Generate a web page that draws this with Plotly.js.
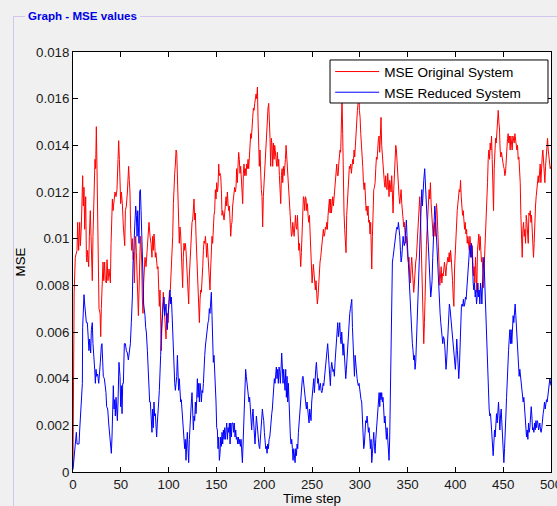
<!DOCTYPE html>
<html><head><meta charset="utf-8">
<script src="https://cdn.plot.ly/plotly-3.0.1.min.js"></script>
<style>
html,body{margin:0;padding:0;width:557px;height:506px;overflow:hidden;background:#f0f0f0;font-family:"Liberation Sans",Arial,sans-serif;}
#panel{position:absolute;left:13px;top:16px;width:560px;height:500px;border:1px solid #d2c6ee;box-sizing:border-box;}
#ptitle{position:absolute;left:25px;top:9px;padding:0 3px;background:#f0f0f0;color:#0000e6;font-weight:bold;font-size:11.6px;line-height:14px;font-family:"Liberation Sans",Arial,sans-serif;}
#chart{position:absolute;left:0;top:0;width:557px;height:506px;}
</style></head>
<body>
<div id="panel"></div>
<div id="ptitle">Graph - MSE values</div>
<div id="chart"></div>
<script>
// ---- data ----
const tOriginal = [0,0.5,1.2,2.4,4.2,4.9,5.9,7.0,7.7,8.7,9.4,10.1,10.8,11.5,12.2,13.3,14.0,14.6,15.3,16.4,17.1,18.1,18.8,19.5,20.2,20.9,21.6,22.3,23.0,23.7,24.4,25.1,25.8,26.5,27.2,28.3,29.0,29.6,30.3,31.4,32.1,33.1,33.8,34.9,35.6,36.6,37.7,38.4,39.1,39.8,40.5,41.2,41.9,42.9,43.9,45.0,46.0,47.1,47.8,48.5,49.2,49.9,50.6,51.6,52.7,53.4,54.1,54.8,55.8,56.9,57.6,58.2,58.9,59.6,60.3,61.4,62.1,62.8,63.5,64.2,64.9,65.6,66.3,67.0,67.7,68.4,69.1,69.8,70.5,71.2,71.9,72.5,73.2,73.9,74.6,75.3,76.4,77.4,78.5,79.5,80.6,81.6,82.6,83.3,84.0,84.7,85.4,86.1,86.8,87.5,88.2,88.9,89.6,90.3,91.0,91.7,92.4,93.1,93.8,94.5,95.2,95.9,96.6,97.3,98.0,98.7,99.4,100.1,100.8,101.8,102.5,103.6,104.3,105.0,105.7,106.4,107.1,107.8,108.5,109.2,109.8,110.5,111.2,111.9,112.6,113.3,114.0,114.7,115.4,116.1,116.8,117.5,118.2,118.9,119.6,120.3,121.0,121.7,122.4,123.1,123.8,124.5,125.2,125.9,126.6,127.3,128.0,128.7,129.4,130.1,130.8,131.5,132.2,132.9,133.6,134.3,135.0,135.7,136.4,137.1,137.8,138.5,139.2,139.8,140.5,141.2,141.9,142.6,143.3,144.0,144.7,145.4,146.1,146.8,147.5,148.2,148.9,149.6,150.3,151.0,151.7,152.4,153.1,153.8,154.5,155.2,155.9,156.6,157.3,158.0,158.7,159.4,160.1,160.8,161.5,162.2,162.9,163.6,164.3,165.0,165.7,166.3,167.0,167.7,168.4,169.1,169.8,170.5,171.2,171.9,172.6,173.3,174.0,174.7,175.4,176.1,176.8,177.5,178.2,178.9,179.6,180.3,181.0,181.7,182.4,183.1,183.8,184.5,185.2,185.9,186.6,187.3,188.0,188.7,189.4,190.1,190.8,191.5,192.2,192.9,193.5,194.2,194.9,195.6,196.3,197.0,197.7,198.4,199.1,199.8,200.5,201.2,201.9,202.6,203.3,204.0,204.7,205.4,206.1,206.8,207.5,208.2,208.9,209.6,210.3,211.0,211.7,212.4,213.1,213.8,214.5,215.2,215.9,216.6,217.3,218.0,218.7,219.4,220.1,220.8,221.5,222.2,222.9,223.6,224.3,225.0,225.7,226.4,227.1,227.8,228.5,229.2,229.9,230.6,231.3,232.0,232.7,233.4,234.1,234.8,235.5,236.2,236.9,237.6,238.2,238.9,239.6,240.3,241.0,241.7,242.4,243.1,243.8,244.5,245.2,245.9,246.6,247.3,248.0,248.7,249.4,250.1,251.4,252.5,253.5,254.2,254.9,255.6,256.3,257.0,257.7,258.4,259.1,259.8,260.5,261.2,261.9,262.6,263.3,264.0,264.7,265.4,266.1,266.8,267.5,268.2,268.9,269.6,270.3,271.0,271.7,272.4,273.1,273.8,274.5,275.2,275.9,276.6,277.3,278.0,278.6,279.3,280.0,280.7,281.4,282.1,282.8,283.5,284.2,284.9,285.6,286.3,287.0,287.7,288.4,289.1,289.8,290.5,291.2,291.9,292.6,293.3,294.0,294.7,295.4,296.1,296.8,297.5,298.2,298.9,299.6,300.3,301.0,301.7,302.4,303.1,303.8,304.5,305.2,305.9,306.6,307.3,308.0,308.6,309.3,310.0,310.7,311.4,312.1,312.5,313.2,313.9,314.6,315.3,316.0,316.7,317.4,318.1,318.8,319.5,320.2,320.8,321.5,322.2,322.9,323.6,324.3,325.0,325.7,326.4,327.1,327.8,328.5,329.2,329.9,330.6,331.3,332.0,332.7,333.4,334.1,334.8,335.5,336.2,336.9,337.6,338.3,339.0,339.7,340.4,341.1,341.8,342.5,343.2,343.9,344.6,345.3,346.0,346.6,347.3,348.0,348.7,349.4,350.1,350.8,351.5,352.2,352.9,353.6,354.3,355.0,355.7,356.4,357.1,357.8,358.5,359.2,359.9,360.6,361.3,362.0,362.7,363.4,364.1,364.8,365.5,366.2,366.9,367.6,368.3,369.0,369.7,370.4,371.1,371.8,372.5,373.2,373.9,374.6,375.3,376.0,376.7,377.4,378.1,378.8,379.5,380.2,380.9,381.6,382.3,383.0,383.7,384.4,385.1,385.8,386.5,387.2,387.9,388.6,389.3,390.0,390.7,391.4,392.1,392.8,393.5,394.2,394.9,395.6,396.3,397.0,397.7,398.4,399.1,399.8,400.5,401.2,401.9,402.6,403.3,404.0,404.7,405.4,406.1,406.8,407.5,408.2,408.9,409.6,410.3,411.0,411.7,412.4,413.1,413.8,414.5,415.2,415.9,416.8,417.5,418.2,418.9,419.6,420.3,421.0,421.7,422.4,423.1,423.8,424.5,425.2,425.9,426.6,427.3,428.0,428.7,429.4,430.1,430.8,431.5,432.2,432.9,433.6,434.3,435.0,435.7,436.4,437.1,437.8,438.5,439.2,439.9,440.6,441.3,442.0,442.7,443.4,444.1,444.8,445.5,446.1,446.8,447.5,448.2,448.9,449.6,450.3,451.0,451.7,452.4,453.1,453.8,454.5,455.2,455.9,456.6,457.3,458.0,458.7,459.4,460.1,460.8,461.5,462.2,462.9,463.6,464.3,465.0,465.7,466.4,467.1,467.8,468.5,469.2,469.9,470.6,471.3,472.0,472.7,473.4,474.1,474.8,475.5,476.2,476.9,477.6,478.3,479.0,479.6,480.3,481.0,481.7,482.4,483.1,483.8,484.5,485.2,485.9,486.6,487.3,488.0,488.7,489.4,490.1,490.8,491.5,492.2,492.9,493.6,494.3,495.0,495.7,496.4,497.1,497.8,498.5,499.2,500];
const mseOriginal = [0.0003,0.0061,0.0077,0.0092,0.0095,0.0107,0.0095,0.0107,0.0097,0.0105,0.0124,0.0127,0.0114,0.0122,0.0104,0.0118,0.0092,0.0090,0.0095,0.0088,0.0101,0.0112,0.0102,0.0088,0.0082,0.0101,0.0114,0.0122,0.0134,0.0130,0.0148,0.0130,0.0110,0.0090,0.0070,0.0068,0.0058,0.0070,0.0077,0.0090,0.0082,0.0090,0.0082,0.0081,0.0091,0.0082,0.0087,0.0081,0.0081,0.0098,0.0107,0.0117,0.0112,0.0118,0.0120,0.0118,0.0121,0.0134,0.0142,0.0134,0.0120,0.0115,0.0120,0.0115,0.0105,0.0101,0.0097,0.0112,0.0114,0.0120,0.0124,0.0131,0.0125,0.0120,0.0104,0.0095,0.0100,0.0091,0.0094,0.0081,0.0095,0.0101,0.0094,0.0084,0.0075,0.0067,0.0078,0.0094,0.0101,0.0097,0.0090,0.0075,0.0068,0.0081,0.0090,0.0092,0.0088,0.0095,0.0101,0.0107,0.0101,0.0098,0.0092,0.0101,0.0095,0.0102,0.0099,0.0092,0.0094,0.0090,0.0087,0.0088,0.0081,0.0071,0.0078,0.0060,0.0052,0.0065,0.0072,0.0077,0.0072,0.0068,0.0062,0.0057,0.0067,0.0068,0.0064,0.0072,0.0077,0.0078,0.0084,0.0092,0.0101,0.0115,0.0127,0.0128,0.0132,0.0138,0.0137,0.0127,0.0117,0.0107,0.0098,0.0105,0.0102,0.0095,0.0087,0.0079,0.0092,0.0098,0.0095,0.0098,0.0095,0.0088,0.0081,0.0075,0.0072,0.0084,0.0090,0.0095,0.0104,0.0107,0.0108,0.0112,0.0117,0.0108,0.0111,0.0101,0.0092,0.0084,0.0075,0.0067,0.0064,0.0074,0.0078,0.0077,0.0081,0.0088,0.0095,0.0099,0.0098,0.0101,0.0097,0.0092,0.0098,0.0092,0.0087,0.0081,0.0078,0.0087,0.0095,0.0101,0.0098,0.0107,0.0110,0.0112,0.0121,0.0117,0.0124,0.0120,0.0122,0.0132,0.0127,0.0128,0.0127,0.0121,0.0110,0.0112,0.0110,0.0108,0.0111,0.0115,0.0118,0.0114,0.0120,0.0115,0.0112,0.0114,0.0105,0.0101,0.0106,0.0107,0.0114,0.0118,0.0121,0.0122,0.0120,0.0122,0.0130,0.0124,0.0131,0.0137,0.0134,0.0128,0.0131,0.0124,0.0121,0.0115,0.0128,0.0132,0.0127,0.0130,0.0127,0.0132,0.0130,0.0134,0.0130,0.0135,0.0141,0.0145,0.0143,0.0150,0.0152,0.0156,0.0155,0.0158,0.0161,0.0162,0.0160,0.0165,0.0152,0.0140,0.0131,0.0138,0.0124,0.0121,0.0118,0.0105,0.0118,0.0124,0.0130,0.0135,0.0140,0.0145,0.0150,0.0156,0.0158,0.0152,0.0143,0.0131,0.0143,0.0140,0.0131,0.0141,0.0134,0.0140,0.0134,0.0134,0.0131,0.0137,0.0131,0.0134,0.0127,0.0121,0.0115,0.0127,0.0130,0.0124,0.0131,0.0127,0.0130,0.0134,0.0140,0.0135,0.0132,0.0127,0.0121,0.0115,0.0107,0.0104,0.0101,0.0102,0.0107,0.0104,0.0101,0.0105,0.0110,0.0105,0.0104,0.0110,0.0101,0.0095,0.0098,0.0091,0.0088,0.0094,0.0101,0.0110,0.0118,0.0117,0.0112,0.0118,0.0117,0.0112,0.0115,0.0110,0.0107,0.0110,0.0102,0.0095,0.0088,0.0081,0.0089,0.0082,0.0078,0.0082,0.0075,0.0072,0.0075,0.0081,0.0087,0.0090,0.0092,0.0095,0.0099,0.0101,0.0104,0.0101,0.0102,0.0105,0.0104,0.0107,0.0104,0.0110,0.0114,0.0117,0.0111,0.0117,0.0111,0.0115,0.0118,0.0114,0.0118,0.0122,0.0127,0.0130,0.0132,0.0127,0.0127,0.0132,0.0134,0.0138,0.0137,0.0148,0.0160,0.0145,0.0121,0.0111,0.0104,0.0097,0.0094,0.0110,0.0115,0.0120,0.0124,0.0131,0.0130,0.0132,0.0128,0.0131,0.0134,0.0132,0.0138,0.0135,0.0141,0.0144,0.0148,0.0155,0.0158,0.0164,0.0155,0.0152,0.0145,0.0141,0.0135,0.0131,0.0124,0.0121,0.0124,0.0118,0.0112,0.0114,0.0110,0.0114,0.0107,0.0108,0.0102,0.0107,0.0095,0.0087,0.0101,0.0115,0.0121,0.0122,0.0124,0.0130,0.0135,0.0134,0.0141,0.0143,0.0144,0.0137,0.0144,0.0152,0.0140,0.0135,0.0132,0.0128,0.0124,0.0122,0.0127,0.0122,0.0121,0.0128,0.0122,0.0118,0.0125,0.0121,0.0120,0.0127,0.0118,0.0111,0.0121,0.0127,0.0134,0.0140,0.0138,0.0132,0.0125,0.0122,0.0118,0.0115,0.0117,0.0121,0.0115,0.0111,0.0108,0.0105,0.0107,0.0101,0.0098,0.0101,0.0095,0.0092,0.0090,0.0092,0.0084,0.0081,0.0088,0.0092,0.0087,0.0081,0.0077,0.0081,0.0087,0.0090,0.0092,0.0098,0.0104,0.0110,0.0114,0.0118,0.0111,0.0101,0.0090,0.0078,0.0064,0.0055,0.0064,0.0078,0.0087,0.0097,0.0104,0.0112,0.0115,0.0121,0.0117,0.0124,0.0115,0.0108,0.0104,0.0101,0.0104,0.0107,0.0101,0.0110,0.0115,0.0111,0.0102,0.0094,0.0088,0.0080,0.0084,0.0088,0.0081,0.0085,0.0084,0.0087,0.0090,0.0087,0.0084,0.0088,0.0091,0.0092,0.0090,0.0094,0.0090,0.0095,0.0092,0.0088,0.0082,0.0075,0.0071,0.0087,0.0095,0.0101,0.0107,0.0112,0.0115,0.0120,0.0121,0.0120,0.0125,0.0118,0.0112,0.0110,0.0112,0.0107,0.0104,0.0107,0.0102,0.0104,0.0098,0.0101,0.0097,0.0095,0.0101,0.0095,0.0092,0.0097,0.0090,0.0084,0.0088,0.0081,0.0092,0.0084,0.0077,0.0095,0.0099,0.0102,0.0095,0.0101,0.0095,0.0090,0.0092,0.0084,0.0079,0.0088,0.0095,0.0099,0.0104,0.0112,0.0124,0.0134,0.0138,0.0134,0.0141,0.0138,0.0144,0.0134,0.0118,0.0112,0.0130,0.0135,0.0143,0.0141,0.0148,0.0152,0.0155,0.0150,0.0147,0.0138,0.0135,0.0137,0.0134,0.0134,0.0131,0.0130,0.0127,0.0128,0.0134,0.0138,0.0143,0.0145,0.0141,0.0144,0.0138,0.0144,0.0141,0.0138,0.0144,0.0143,0.0141,0.0145,0.0143,0.0141,0.0138,0.0140,0.0134,0.0135,0.0131,0.0124,0.0110,0.0101,0.0092,0.0104,0.0107,0.0101,0.0104,0.0098,0.0110,0.0107,0.0101,0.0098,0.0111,0.0110,0.0112,0.0107,0.0110,0.0104,0.0095,0.0092,0.0098,0.0110,0.0114,0.0118,0.0122,0.0124,0.0127,0.0124,0.0130,0.0132,0.0124,0.0134,0.0135,0.0138,0.0134,0.0127,0.0124,0.0131,0.0135,0.0138,0.0143,0.0138,0.0135,0.0132,0.0130,0.0131];

const tReduced = [0,0.7,1.4,2.4,3.5,4.2,5.2,6.3,7.0,8.0,9.1,9.8,10.1,10.8,11.5,12.2,12.9,14.0,15.0,15.7,16.7,17.4,18.5,19.2,20.2,20.9,21.6,22.7,23.4,24.1,24.8,25.8,26.9,27.9,28.6,29.6,30.3,31.0,31.7,32.8,33.5,34.5,35.2,36.3,37.3,38.0,38.7,39.4,40.1,40.8,41.5,42.2,42.9,43.6,44.3,45.0,45.7,46.4,47.1,48.1,49.2,49.9,50.6,51.3,52.0,52.7,53.7,54.8,55.8,56.9,57.9,58.9,60.0,61.0,62.1,62.8,63.5,64.2,64.9,65.6,66.3,67.0,67.7,68.4,69.1,69.8,70.5,71.2,71.9,72.5,73.2,73.9,74.6,75.3,76.0,76.7,77.8,78.5,79.5,80.2,80.9,82.0,82.6,83.3,84.0,84.7,85.4,86.1,86.8,87.5,88.2,88.9,89.6,90.3,91.0,91.7,92.4,93.1,93.8,94.5,95.2,95.9,96.6,97.3,98.0,98.7,99.4,100.1,100.8,101.5,102.2,102.9,103.6,104.3,105.0,105.7,106.4,107.1,107.8,108.5,109.2,109.8,110.5,111.2,111.9,112.6,113.3,114.0,114.7,115.4,116.1,116.8,117.5,118.2,118.9,119.6,120.3,121.0,121.7,122.4,123.1,123.8,124.5,125.2,125.9,126.6,127.3,128.0,128.7,129.4,130.1,130.8,131.5,132.2,132.9,133.6,134.3,135.0,135.7,136.4,137.1,137.8,138.5,139.2,139.8,140.5,141.2,141.9,142.6,143.3,144.0,144.7,145.4,146.1,146.8,147.5,148.2,148.9,149.6,150.3,151.0,151.7,152.4,153.1,153.8,154.5,155.2,155.9,156.6,157.3,158.0,158.7,159.4,160.1,160.8,161.5,162.2,162.9,163.6,164.3,165.0,165.7,166.4,167.4,168.1,168.8,169.5,170.2,170.9,171.6,172.3,173.0,173.7,174.4,175.1,175.8,176.5,177.2,177.9,178.6,179.3,180.0,180.6,181.3,182.0,182.7,183.4,184.1,184.8,185.5,186.2,186.9,187.6,188.3,189.0,189.7,190.4,191.1,191.8,192.5,193.2,193.9,194.6,195.3,196.0,196.7,197.4,198.1,198.8,199.5,200.2,200.9,201.6,202.3,203.0,203.7,204.4,205.1,205.8,206.5,207.2,207.9,208.5,209.2,209.9,210.6,211.3,212.0,212.7,213.4,214.1,214.8,215.5,216.2,216.9,217.6,218.3,219.0,219.7,220.4,221.1,221.8,222.5,223.2,223.9,224.6,225.3,226.0,226.7,227.4,228.1,228.8,229.5,230.2,230.9,231.6,232.3,233.0,233.7,234.4,235.1,235.8,236.5,237.2,237.9,238.5,239.2,239.9,240.6,241.3,242.0,242.7,243.4,244.1,244.8,245.5,246.2,246.9,247.6,248.3,249.0,249.7,250.4,251.1,251.8,252.5,253.2,253.9,254.6,255.3,256.0,256.7,257.4,258.1,258.8,259.5,260.2,260.9,261.6,262.3,263.0,263.7,264.3,265.0,265.7,266.4,267.1,267.8,268.5,269.2,269.9,270.6,271.3,272.0,272.7,273.4,274.1,274.8,275.5,276.2,276.9,277.6,278.3,279.0,279.7,280.4,281.1,281.8,282.5,283.2,283.9,284.6,285.3,286.0,286.7,287.4,288.1,288.8,289.5,290.2,290.9,291.6,292.3,293.0,293.7,294.4,295.1,295.8,296.5,297.2,297.9,298.5,299.2,299.9,300.6,301.3,302.0,302.7,303.4,304.1,304.8,305.5,306.2,306.9,307.6,308.3,309.0,309.7,310.4,311.1,311.8,312.5,313.2,313.9,314.6,315.3,316.0,316.7,317.4,318.1,318.8,319.5,320.2,320.9,321.5,322.2,322.9,323.6,324.3,325.0,325.7,326.4,327.1,327.8,328.5,329.2,329.9,330.6,331.3,332.0,332.7,333.4,334.1,334.8,335.5,336.2,336.9,337.6,338.3,339.0,339.7,340.4,341.1,341.8,342.5,343.2,343.9,344.6,345.3,346.0,346.6,347.3,348.0,348.7,349.4,350.1,350.8,351.5,352.2,352.9,353.6,354.3,355.0,355.7,356.4,357.1,357.8,358.5,359.2,359.9,360.6,361.3,362.0,362.7,363.4,364.1,364.8,365.5,366.2,366.9,367.9,368.6,369.3,370.0,370.7,371.4,372.1,372.8,373.5,374.2,374.9,375.6,376.3,377.0,377.7,378.4,379.1,379.8,380.5,381.2,381.9,382.6,383.3,384.0,384.7,385.4,386.1,386.8,387.5,388.2,388.9,389.6,390.2,390.9,391.6,392.3,393.0,393.7,394.4,395.1,395.8,396.5,397.2,397.9,398.6,399.3,400.0,400.7,401.4,402.1,402.8,403.5,404.2,404.9,405.6,406.3,407.0,407.7,408.4,409.1,409.8,410.5,411.2,411.9,412.6,413.3,414.0,414.7,415.4,416.1,416.8,417.5,418.6,419.3,420.0,420.7,421.4,422.1,422.8,423.5,424.2,424.9,425.6,426.3,427.0,427.7,428.4,429.1,429.8,430.5,431.2,431.9,432.6,433.2,433.9,434.6,435.3,436.0,436.7,437.4,438.1,438.8,439.5,440.2,440.9,441.6,442.3,443.0,443.7,444.4,445.1,445.8,446.5,447.2,447.9,448.6,449.3,450.0,450.7,451.4,452.1,452.8,453.5,454.2,454.9,455.6,456.3,457.0,457.7,458.3,459.0,459.7,460.4,461.1,461.8,462.5,463.2,463.9,464.6,465.3,466.0,466.7,467.4,468.1,468.8,469.5,470.2,470.9,471.6,472.3,473.0,473.7,474.4,475.1,475.8,476.5,477.2,477.9,478.6,479.3,480.0,480.7,481.4,482.1,482.8,483.5,484.2,484.9,485.6,486.3,487.0,487.7,488.3,489.0,489.7,490.4,491.1,491.8,492.5,493.2,493.9,494.6,495.3,496.0,496.7,497.4,498.1,498.8,500];
const mseReduced = [0.0001,0.0004,0.0010,0.0014,0.0017,0.0012,0.0012,0.0012,0.0018,0.0024,0.0030,0.0038,0.0062,0.0070,0.0076,0.0072,0.0067,0.0064,0.0064,0.0058,0.0052,0.0057,0.0051,0.0061,0.0064,0.0055,0.0048,0.0044,0.0038,0.0044,0.0041,0.0042,0.0038,0.0042,0.0047,0.0054,0.0055,0.0048,0.0041,0.0040,0.0038,0.0034,0.0028,0.0027,0.0021,0.0018,0.0015,0.0014,0.0008,0.0015,0.0030,0.0037,0.0027,0.0031,0.0024,0.0032,0.0027,0.0022,0.0030,0.0047,0.0041,0.0028,0.0037,0.0025,0.0038,0.0038,0.0055,0.0055,0.0052,0.0051,0.0048,0.0052,0.0055,0.0064,0.0075,0.0090,0.0092,0.0102,0.0107,0.0114,0.0110,0.0101,0.0112,0.0105,0.0098,0.0120,0.0121,0.0112,0.0104,0.0095,0.0084,0.0072,0.0070,0.0067,0.0062,0.0060,0.0052,0.0044,0.0035,0.0030,0.0030,0.0021,0.0017,0.0027,0.0019,0.0030,0.0024,0.0025,0.0019,0.0015,0.0021,0.0024,0.0030,0.0035,0.0041,0.0050,0.0060,0.0067,0.0068,0.0072,0.0075,0.0067,0.0070,0.0072,0.0065,0.0061,0.0067,0.0072,0.0077,0.0078,0.0072,0.0075,0.0068,0.0060,0.0050,0.0044,0.0038,0.0035,0.0038,0.0041,0.0050,0.0038,0.0035,0.0040,0.0034,0.0030,0.0031,0.0027,0.0022,0.0017,0.0014,0.0010,0.0014,0.0005,0.0012,0.0017,0.0010,0.0004,0.0014,0.0021,0.0025,0.0030,0.0034,0.0027,0.0018,0.0024,0.0022,0.0030,0.0025,0.0031,0.0040,0.0032,0.0038,0.0030,0.0038,0.0035,0.0030,0.0035,0.0034,0.0038,0.0047,0.0050,0.0054,0.0057,0.0061,0.0064,0.0064,0.0065,0.0070,0.0068,0.0072,0.0077,0.0067,0.0055,0.0047,0.0050,0.0044,0.0038,0.0030,0.0019,0.0018,0.0010,0.0015,0.0005,0.0008,0.0015,0.0011,0.0017,0.0012,0.0018,0.0014,0.0019,0.0014,0.0018,0.0021,0.0014,0.0019,0.0017,0.0021,0.0012,0.0021,0.0015,0.0021,0.0021,0.0017,0.0021,0.0015,0.0018,0.0014,0.0015,0.0012,0.0015,0.0012,0.0014,0.0011,0.0014,0.0010,0.0004,0.0012,0.0021,0.0030,0.0038,0.0044,0.0041,0.0038,0.0035,0.0032,0.0030,0.0032,0.0027,0.0024,0.0018,0.0024,0.0027,0.0021,0.0017,0.0012,0.0018,0.0024,0.0021,0.0017,0.0012,0.0011,0.0010,0.0014,0.0018,0.0022,0.0027,0.0024,0.0022,0.0017,0.0012,0.0010,0.0011,0.0008,0.0012,0.0010,0.0014,0.0015,0.0018,0.0024,0.0025,0.0027,0.0032,0.0035,0.0040,0.0038,0.0043,0.0045,0.0040,0.0044,0.0038,0.0045,0.0043,0.0038,0.0044,0.0051,0.0045,0.0038,0.0044,0.0041,0.0035,0.0044,0.0032,0.0041,0.0030,0.0038,0.0027,0.0021,0.0015,0.0012,0.0014,0.0010,0.0005,0.0010,0.0007,0.0004,0.0010,0.0007,0.0012,0.0010,0.0017,0.0021,0.0024,0.0030,0.0035,0.0038,0.0040,0.0041,0.0038,0.0035,0.0032,0.0030,0.0027,0.0030,0.0027,0.0024,0.0021,0.0027,0.0022,0.0022,0.0030,0.0034,0.0035,0.0040,0.0034,0.0041,0.0044,0.0047,0.0040,0.0038,0.0040,0.0035,0.0037,0.0038,0.0035,0.0034,0.0035,0.0038,0.0037,0.0041,0.0044,0.0048,0.0051,0.0052,0.0055,0.0050,0.0043,0.0038,0.0037,0.0044,0.0047,0.0045,0.0043,0.0044,0.0041,0.0047,0.0052,0.0058,0.0061,0.0064,0.0058,0.0060,0.0064,0.0058,0.0055,0.0060,0.0052,0.0050,0.0055,0.0050,0.0044,0.0040,0.0044,0.0050,0.0054,0.0058,0.0064,0.0068,0.0070,0.0072,0.0074,0.0062,0.0052,0.0045,0.0041,0.0050,0.0045,0.0041,0.0040,0.0038,0.0037,0.0038,0.0035,0.0034,0.0031,0.0030,0.0024,0.0015,0.0010,0.0012,0.0019,0.0022,0.0021,0.0024,0.0021,0.0017,0.0019,0.0015,0.0010,0.0014,0.0004,0.0008,0.0012,0.0017,0.0011,0.0008,0.0014,0.0018,0.0024,0.0027,0.0030,0.0034,0.0028,0.0034,0.0031,0.0034,0.0030,0.0032,0.0027,0.0021,0.0024,0.0017,0.0014,0.0019,0.0014,0.0010,0.0005,0.0015,0.0032,0.0052,0.0081,0.0090,0.0092,0.0095,0.0097,0.0099,0.0101,0.0104,0.0105,0.0104,0.0107,0.0105,0.0101,0.0095,0.0090,0.0092,0.0097,0.0101,0.0098,0.0097,0.0099,0.0107,0.0108,0.0101,0.0095,0.0088,0.0081,0.0075,0.0070,0.0064,0.0060,0.0055,0.0052,0.0048,0.0050,0.0044,0.0047,0.0055,0.0067,0.0078,0.0081,0.0090,0.0101,0.0110,0.0114,0.0121,0.0114,0.0121,0.0125,0.0130,0.0124,0.0115,0.0107,0.0101,0.0098,0.0092,0.0087,0.0081,0.0075,0.0078,0.0082,0.0092,0.0101,0.0112,0.0114,0.0110,0.0104,0.0095,0.0090,0.0081,0.0078,0.0072,0.0068,0.0064,0.0061,0.0057,0.0055,0.0058,0.0057,0.0054,0.0048,0.0044,0.0048,0.0055,0.0064,0.0070,0.0072,0.0070,0.0067,0.0064,0.0061,0.0058,0.0055,0.0052,0.0047,0.0044,0.0050,0.0057,0.0052,0.0047,0.0040,0.0045,0.0055,0.0064,0.0071,0.0072,0.0071,0.0074,0.0071,0.0072,0.0075,0.0074,0.0078,0.0084,0.0090,0.0092,0.0095,0.0097,0.0092,0.0098,0.0095,0.0081,0.0078,0.0081,0.0075,0.0078,0.0072,0.0075,0.0081,0.0075,0.0078,0.0072,0.0081,0.0078,0.0072,0.0081,0.0088,0.0092,0.0084,0.0075,0.0070,0.0061,0.0052,0.0041,0.0032,0.0027,0.0024,0.0025,0.0021,0.0015,0.0010,0.0007,0.0012,0.0018,0.0015,0.0021,0.0025,0.0021,0.0027,0.0030,0.0024,0.0018,0.0024,0.0027,0.0021,0.0015,0.0010,0.0004,0.0010,0.0015,0.0024,0.0032,0.0041,0.0047,0.0052,0.0057,0.0061,0.0055,0.0061,0.0055,0.0061,0.0067,0.0064,0.0070,0.0072,0.0067,0.0061,0.0055,0.0050,0.0044,0.0041,0.0044,0.0041,0.0038,0.0038,0.0035,0.0030,0.0032,0.0027,0.0024,0.0021,0.0015,0.0018,0.0014,0.0021,0.0017,0.0019,0.0024,0.0028,0.0024,0.0018,0.0019,0.0017,0.0021,0.0018,0.0022,0.0019,0.0022,0.0021,0.0018,0.0019,0.0021,0.0018,0.0017,0.0019,0.0024,0.0025,0.0027,0.0030,0.0027,0.0030,0.0031,0.0030,0.0032,0.0035,0.0038,0.0040,0.0037,0.0038,0.0040,0.0035];

const xTickVals = [0,50,100,150,200,250,300,350,400,450,500];
const yTickVals = [0,0.002,0.004,0.006,0.008,0.01,0.012,0.014,0.016,0.018];
const yTickText = ['0','0.002','0.004','0.006','0.008','0.01','0.012','0.014','0.016','0.018'];
const seriesNames = ['MSE Original System','MSE Reduced System'];

const fam = '"Liberation Sans", Arial, sans-serif';
const tickFont = {family:fam, size:13.3, color:'#1a1a1a'};
const titleFont = {family:fam, size:13.3, color:'#000'};

Plotly.newPlot('chart', [
  {x:tOriginal, y:mseOriginal, type:'scatter', mode:'lines', name:seriesNames[0], line:{color:'#ff0000', width:1}},
  {x:tReduced, y:mseReduced, type:'scatter', mode:'lines', name:seriesNames[1], line:{color:'#0000ff', width:1}}
], {
  width:557, height:506,
  paper_bgcolor:'rgba(0,0,0,0)', plot_bgcolor:'#ffffff',
  margin:{l:73, r:6, t:52, b:34, pad:0},
  showlegend:true,
  // legend frame (MATLAB-style box, wider than Plotly's auto-sized legend)
  shapes:[{type:'rect', xref:'paper', yref:'paper', x0:0.5377, x1:0.9937, y0:0.8786, y1:0.981, layer:'above',
           fillcolor:'#ffffff', line:{color:'#000000', width:1}}],
  legend:{x:0.538, y:0.99, xanchor:'left', yanchor:'top', bgcolor:'rgba(0,0,0,0)', borderwidth:0,
          font:{family:fam, size:13.6, color:'#000'}, tracegroupgap:0, itemwidth:44},
  xaxis:{range:[0,500], tickvals:xTickVals, ticks:'inside', ticklen:5, tickcolor:'#000', showline:true, linecolor:'#000', linewidth:1,
         mirror:'ticks', showgrid:false, zeroline:false, tickfont:tickFont, ticklabeloverflow:'allow',
         title:{text:'Time step', font:titleFont, standoff:1}},
  yaxis:{range:[0,0.018], tickvals:yTickVals, ticktext:yTickText, ticks:'inside', ticklen:5, tickcolor:'#000', showline:true, linecolor:'#000', linewidth:1,
         mirror:'ticks', showgrid:false, zeroline:false, tickfont:tickFont,
         title:{text:'MSE', font:titleFont, standoff:7}}
}, {displayModeBar:false, staticPlot:true});
</script>
</body></html>
